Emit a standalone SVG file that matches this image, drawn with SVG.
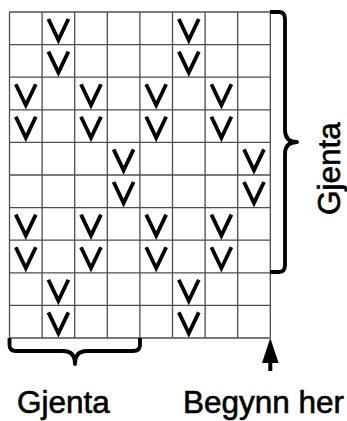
<svg xmlns="http://www.w3.org/2000/svg" xmlns:xlink="http://www.w3.org/1999/xlink" width="347" height="421" viewBox="0 0 347 421">
<style>
.grid{fill:none;stroke:#4d4d4d;stroke-width:1.3}
.mk{fill:none;stroke:#000;stroke-width:3.8;stroke-linejoin:miter;stroke-miterlimit:10}
.brace{fill:none;stroke:#000;stroke-width:3.8;stroke-linejoin:round}
.lbl{font-family:"Liberation Sans",Arial,sans-serif;font-size:31.5px;fill:#000;stroke:#000;stroke-width:0.6}
</style>
<defs>
<path id="v" class="mk" d="M-10,7 L0,28 L10,7"/>
</defs>
<rect width="347" height="421" fill="#fff"/>
<g id="grid">
<path class="grid" d="M9.5,12 V338 M42.1,12 V338 M74.7,12 V338 M107.3,12 V338 M139.9,12 V338 M172.5,12 V338 M205.1,12 V338 M237.7,12 V338 M270.3,12 V338 M9.5,12 H270.3 M9.5,44.6 H270.3 M9.5,77.2 H270.3 M9.5,109.8 H270.3 M9.5,142.4 H270.3 M9.5,175 H270.3 M9.5,207.6 H270.3 M9.5,240.2 H270.3 M9.5,272.8 H270.3 M9.5,305.4 H270.3 M9.5,338 H270.3"/>
</g>
<g id="marks">
<use xlink:href="#v" x="58.4" y="12"/><use xlink:href="#v" x="188.8" y="12"/>
<use xlink:href="#v" x="58.4" y="44.6"/><use xlink:href="#v" x="188.8" y="44.6"/>
<use xlink:href="#v" x="25.8" y="77.2"/><use xlink:href="#v" x="91" y="77.2"/><use xlink:href="#v" x="156.2" y="77.2"/><use xlink:href="#v" x="221.4" y="77.2"/>
<use xlink:href="#v" x="25.8" y="109.8"/><use xlink:href="#v" x="91" y="109.8"/><use xlink:href="#v" x="156.2" y="109.8"/><use xlink:href="#v" x="221.4" y="109.8"/>
<use xlink:href="#v" x="123.6" y="142.4"/><use xlink:href="#v" x="254" y="142.4"/>
<use xlink:href="#v" x="123.6" y="175"/><use xlink:href="#v" x="254" y="175"/>
<use xlink:href="#v" x="25.8" y="207.6"/><use xlink:href="#v" x="91" y="207.6"/><use xlink:href="#v" x="156.2" y="207.6"/><use xlink:href="#v" x="221.4" y="207.6"/>
<use xlink:href="#v" x="25.8" y="240.2"/><use xlink:href="#v" x="91" y="240.2"/><use xlink:href="#v" x="156.2" y="240.2"/><use xlink:href="#v" x="221.4" y="240.2"/>
<use xlink:href="#v" x="58.4" y="272.8"/><use xlink:href="#v" x="188.8" y="272.8"/>
<use xlink:href="#v" x="58.4" y="305.4"/><use xlink:href="#v" x="188.8" y="305.4"/>
</g>
<g id="braces">
<path id="brace-right" class="brace" d="M270,12 H279 Q285,12 285,19 V130 Q285,142 297,142 Q285,142 285,154 V265 Q285,272 279,272 H270"/>
<path id="brace-bottom" class="brace" d="M9.5,338 V345 Q9.5,351 16,351 H63 Q75,351 75,364 Q75,351 87,351 H133 Q140,351 140,345 V338"/>
</g>
<g id="arrow">
<polygon points="270.3,338 262,363 278.6,363" fill="#000"/>
<line x1="270.3" y1="362" x2="270.3" y2="371" stroke="#000" stroke-width="4"/>
</g>
<g id="labels">
<text class="lbl" x="17" y="413">Gjenta</text>
<text class="lbl" x="183" y="413">Begynn her</text>
<text class="lbl" transform="translate(339.5,215) rotate(-90)">Gjenta</text>
</g>
</svg>
